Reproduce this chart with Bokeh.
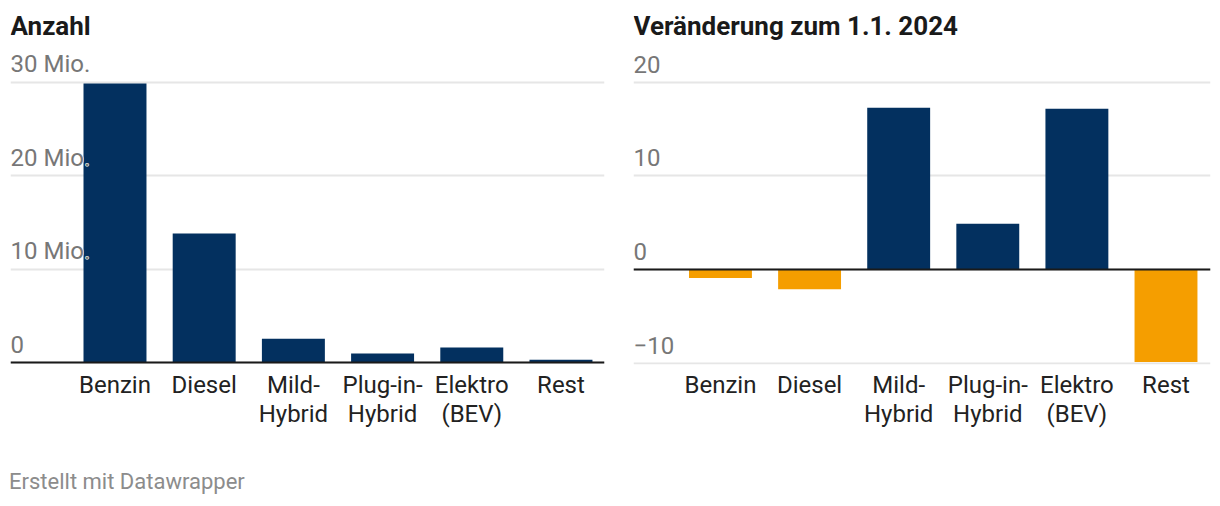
from bokeh.plotting import figure
from bokeh.models import ColumnDataSource, FixedTicker, Span, Range1d, Div, Text
from bokeh.layouts import row, column
from bokeh.core.properties import value
from bokeh.embed import file_html
from bokeh.resources import INLINE

# ---- data ----
categories = ["Benzin", "Diesel", "Mild-Hybrid", "Plug-in-Hybrid", "Elektro (BEV)", "Rest"]
category_labels = ["Benzin", "Diesel", "Mild-\nHybrid", "Plug-in-\nHybrid", "Elektro\n(BEV)", "Rest"]
anzahl_mio = [29.85, 13.8, 2.55, 0.95, 1.6, 0.3]
veraenderung_pct = [-0.9, -2.1, 17.3, 4.9, 17.2, -9.9]
left_ticks = [0, 10, 20, 30]
left_tick_labels = ["0", "10 Mio.", "20 Mio.", "30 Mio."]
right_ticks = [-10, 0, 10, 20]
right_tick_labels = ["\u221210", "0", "10", "20"]
title_left = "Anzahl"
title_right = "Ver\u00e4nderung zum 1.1. 2024"
footer_text = "Erstellt mit Datawrapper"

NAVY = "#03305f"
ORANGE = "#f59e00"
FONT = "Roboto"

HAS_OUTLINE = "text_outline_color" in Text.properties()


def make_panel(title, vals, colors, ticks, tick_labels, width, mbl, mbr, xr, yr):
    p = figure(width=width, height=448, x_range=Range1d(*xr), y_range=Range1d(*yr),
               output_backend="svg", toolbar_location=None,
               min_border_left=mbl, min_border_right=mbr, min_border_top=8, min_border_bottom=84)
    p.outline_line_color = None
    p.background_fill_color = "white"
    p.border_fill_color = "white"
    p.yaxis.visible = False
    p.xgrid.visible = False
    p.ygrid.ticker = FixedTicker(ticks=ticks)
    p.ygrid.grid_line_color = "#e6e6e6"
    p.ygrid.grid_line_width = 2

    ax = p.xaxis[0]
    ax.ticker = FixedTicker(ticks=list(range(len(categories))))
    ax.major_label_overrides = {i: lab for i, lab in enumerate(category_labels)}
    ax.axis_line_color = None
    ax.major_tick_line_color = None
    ax.minor_tick_line_color = None
    ax.major_tick_out = 0
    ax.major_tick_in = 0
    ax.major_label_standoff = 6
    ax.major_label_text_font = FONT
    ax.major_label_text_font_size = "24px"
    ax.major_label_text_color = "#222222"
    ax.major_label_text_line_height = 1.06

    src = ColumnDataSource(dict(x=list(range(len(categories))), top=vals, color=colors))
    p.vbar(x="x", top="top", bottom=0, width=0.706, fill_color="color", line_color=None, source=src)

    p.add_layout(Span(location=0, dimension="width", line_color="#1a1a1a", line_width=2))

    tsrc = ColumnDataSource(dict(x=[xr[0]] * len(ticks), y=ticks, t=tick_labels))
    common = dict(x="x", y="y", text="t", source=tsrc, text_font=value(FONT), text_font_size="24px",
                  text_align="left", text_baseline="alphabetic", y_offset=-18)
    if HAS_OUTLINE:
        p.text(text_color="white", text_outline_color="white", **common)
    p.text(text_color="#777777", **common)

    p.text(x=[xr[0]], y=[yr[1]], text=[title], text_font=value(FONT), text_font_size="26px",
           text_font_style="bold", text_color="#1a1a1a", text_align="left",
           text_baseline="alphabetic", y_offset=17)
    return p


left_colors = [NAVY for _ in anzahl_mio]
right_colors = [NAVY if v >= 0 else ORANGE for v in veraenderung_pct]

p1 = make_panel(title_left, anzahl_mio, left_colors, left_ticks, left_tick_labels,
                612, 10, 8, (-1.1715, 5.488), (-0.214, 37.89))
p2 = make_panel(title_right, veraenderung_pct, right_colors, right_ticks, right_tick_labels,
                608, 21, 10, (-0.976, 5.4994), (-10.16, 27.91))

footer = Div(text=footer_text, width=1212, height=50, margin=(0, 0, 0, 0),
             styles={"font-family": FONT, "font-size": "22px", "color": "#8c8c8c",
                     "padding-top": "23px", "padding-left": "9px", "line-height": "22px"})

layout = column(row(p1, p2), footer)
open("out.html", "w").write(file_html(layout, INLINE))
